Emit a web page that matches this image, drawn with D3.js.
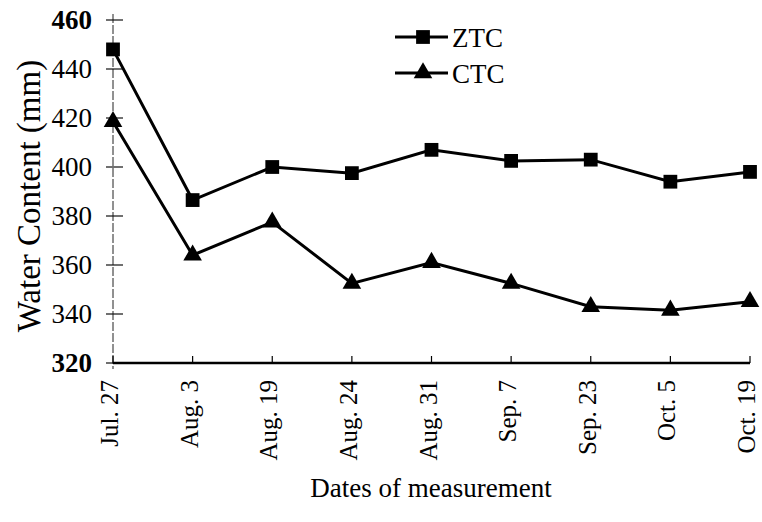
<!DOCTYPE html>
<html>
<head>
<meta charset="utf-8">
<script src="https://cdn.jsdelivr.net/npm/d3@7"></script>
<style>
  body { margin: 0; background: #fff; }
  text { font-family: "Liberation Serif", "Times New Roman", serif; fill: #000; }
</style>
</head>
<body>
<div id="chart"></div>
<script>
var svgWidth = 762;
var svgHeight = 522;

// data
var dates = ["Jul. 27", "Aug. 3", "Aug. 19", "Aug. 24", "Aug. 31", "Sep. 7", "Sep. 23", "Oct. 5", "Oct. 19"];
var ztc = [448, 386.5, 400, 397.5, 407, 402.5, 403, 394, 398];
var ctc = [418.5, 364, 377.5, 352.5, 361, 352.5, 343, 341.5, 345];
var yTicks = [320, 340, 360, 380, 400, 420, 440, 460];

var svg = d3.select("#chart")
  .append("svg")
  .attr("width", svgWidth)
  .attr("height", svgHeight);

var x = d3.scalePoint()
  .domain(dates)
  .range([113, 750]);

var y = d3.scaleLinear()
  .domain([320, 460])
  .range([363, 20]);

// y axis: thin broken line with ticks crossing it
svg.append("line")
  .attr("x1", 113).attr("x2", 113)
  .attr("y1", y(460) - 6).attr("y2", y(320) + 6)
  .attr("stroke", "#222")
  .attr("stroke-width", 1)
  .attr("stroke-dasharray", "9,2");

svg.selectAll(".ytick")
  .data(yTicks)
  .enter()
  .append("line")
  .attr("x1", 106).attr("x2", 123)
  .attr("y1", d => y(d)).attr("y2", d => y(d))
  .attr("stroke", "#111")
  .attr("stroke-width", 1.2);

svg.selectAll(".ylab")
  .data(yTicks)
  .enter()
  .append("text")
  .attr("x", 92)
  .attr("y", d => y(d))
  .attr("dy", "0.35em")
  .attr("text-anchor", "end")
  .attr("font-size", "27px")
  .attr("font-weight", d => (d === 320 || d === 460) ? "bold" : "normal")
  .text(d => d);

// x axis
svg.append("line")
  .attr("x1", 113).attr("x2", 750)
  .attr("y1", y(320)).attr("y2", y(320))
  .attr("stroke", "#000")
  .attr("stroke-width", 2.5);

svg.selectAll(".xtick")
  .data(dates)
  .enter()
  .append("line")
  .attr("x1", d => x(d)).attr("x2", d => x(d))
  .attr("y1", y(320)).attr("y2", y(320) - 7)
  .attr("stroke", "#000")
  .attr("stroke-width", 1.2);

svg.selectAll(".xlab")
  .data(dates)
  .enter()
  .append("text")
  .attr("transform", d => `translate(${x(d) + 5}, 380) rotate(-90)`)
  .attr("text-anchor", "end")
  .attr("font-size", "25px")
  .text(d => d);

// series
var line = d3.line()
  .x((d, i) => x(dates[i]))
  .y(d => y(d));

svg.append("path")
  .datum(ztc)
  .attr("d", line)
  .attr("fill", "none")
  .attr("stroke", "#000")
  .attr("stroke-width", 3);

svg.append("path")
  .datum(ctc)
  .attr("d", line)
  .attr("fill", "none")
  .attr("stroke", "#000")
  .attr("stroke-width", 3);

var square = d3.symbol().type(d3.symbolSquare).size(190);
var triangle = d3.symbol().type(d3.symbolTriangle).size(150);

svg.selectAll(".sq")
  .data(ztc)
  .enter()
  .append("path")
  .attr("d", square)
  .attr("transform", (d, i) => `translate(${x(dates[i])}, ${y(d)})`)
  .attr("fill", "#000");

svg.selectAll(".tri")
  .data(ctc)
  .enter()
  .append("path")
  .attr("d", triangle)
  .attr("transform", (d, i) => `translate(${x(dates[i])}, ${y(d)})`)
  .attr("fill", "#000");

// legend
var legend = [{name: "ZTC", sym: square, y: 37}, {name: "CTC", sym: triangle, y: 73}];
legend.forEach(function(l) {
  svg.append("line")
    .attr("x1", 395).attr("x2", 448)
    .attr("y1", l.y).attr("y2", l.y)
    .attr("stroke", "#000")
    .attr("stroke-width", 3);
  svg.append("path")
    .attr("d", l.sym)
    .attr("transform", `translate(423, ${l.y})`)
    .attr("fill", "#000");
  svg.append("text")
    .attr("x", 452)
    .attr("y", l.y + 10)
    .attr("font-size", "27px")
    .text(l.name);
});

// axis titles
svg.append("text")
  .attr("transform", "translate(40, 196) rotate(-90)")
  .attr("text-anchor", "middle")
  .attr("font-size", "33px")
  .text("Water Content (mm)");

svg.append("text")
  .attr("x", 431)
  .attr("y", 497)
  .attr("text-anchor", "middle")
  .attr("font-size", "27px")
  .text("Dates of measurement");
</script>
</body>
</html>
